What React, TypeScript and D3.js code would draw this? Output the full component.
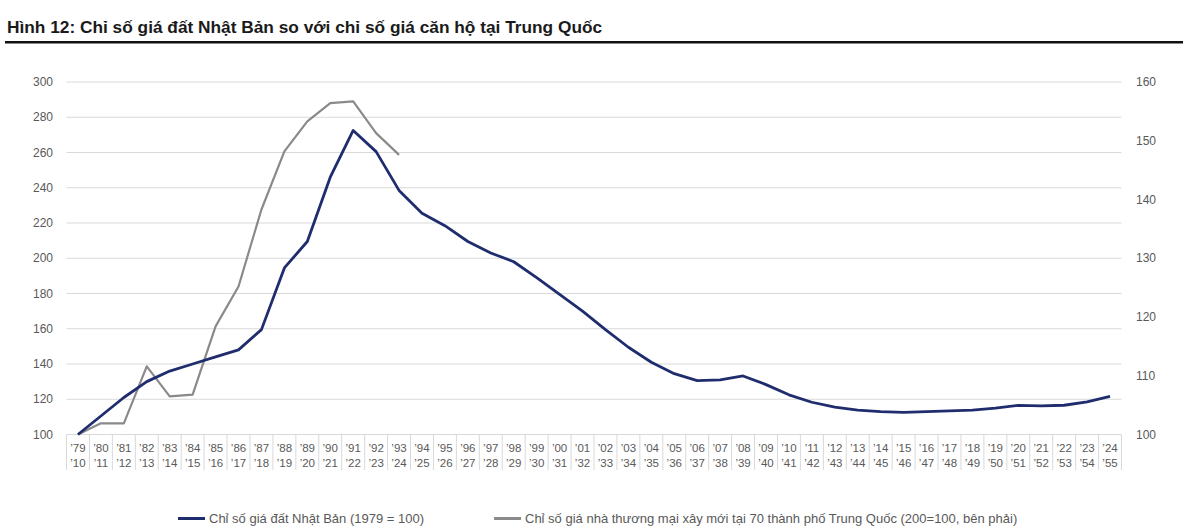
import React, { useEffect, useRef } from 'react';
import * as d3 from 'd3';

// Years on the first label row (Japan) and second row (China, shifted)
const japanYears = [
  '79', '80', '81', '82', '83', '84', '85', '86', '87', '88', '89', '90', '91', '92', '93', '94',
  '95', '96', '97', '98', '99', '00', '01', '02', '03', '04', '05', '06', '07', '08', '09', '10',
  '11', '12', '13', '14', '15', '16', '17', '18', '19', '20', '21', '22', '23', '24'
];
const chinaYears = [
  '10', '11', '12', '13', '14', '15', '16', '17', '18', '19', '20', '21', '22', '23', '24', '25',
  '26', '27', '28', '29', '30', '31', '32', '33', '34', '35', '36', '37', '38', '39', '40', '41',
  '42', '43', '44', '45', '46', '47', '48', '49', '50', '51', '52', '53', '54', '55'
];

// Japan land price index (1979 = 100), left axis
const japanValues = [
  100, 110.5, 121, 130, 136, 140, 144, 148, 159.5, 194.5, 209.5, 246, 272.5, 260.5, 238.5, 225.5,
  218.5, 209.5, 203, 198, 189, 179.5, 170, 159.5, 149.5, 141, 134.5, 130.6, 131, 133.2, 128.3, 122.5,
  118.3, 115.5, 113.8, 113, 112.6, 113, 113.4, 113.8, 115, 116.5, 116.2, 116.6, 118.5, 121.6
];

// China new home price index, 70 cities (right axis); only first 15 points
const chinaValues = [
  100, 101.9, 101.9, 111.6, 106.5, 106.8, 118.4, 125.2, 138.3, 148.2, 153.3, 156.4, 156.7, 151.3, 147.6
];

const leftTicks = [100, 120, 140, 160, 180, 200, 220, 240, 260, 280, 300];
const rightTicks = [100, 110, 120, 130, 140, 150, 160];

const titleText = 'Hình 12: Chỉ số giá đất Nhật Bản so với chỉ số giá căn hộ tại Trung Quốc';
const legendJapan = 'Chỉ số giá đất Nhật Bản (1979 = 100)';
const legendChina = 'Chỉ số giá nhà thương mại xây mới tại 70 thành phố Trung Quốc (200=100, bên phải)';

const App: React.FC = () => {
  const ref = useRef<SVGSVGElement>(null);

  useEffect(() => {
    if (!ref.current) return;
    const svg = d3.select(ref.current);
    svg.selectAll('*').remove();

    const font = '"Liberation Sans", Arial, sans-serif';
    const labelColor = '#595959';
    const gridColor = '#d9d9d9';
    const blue = '#1f2d6e';
    const gray = '#8a8a8a';

    const left = 66.5;
    const right = 1121.5;
    const top = 82;
    const bottom = 434.5;

    // Title
    svg.append('text')
      .attr('x', 7)
      .attr('y', 33)
      .attr('font-family', font)
      .attr('font-size', 17.3)
      .attr('font-weight', 'bold')
      .attr('fill', '#1a1a1a')
      .text(titleText);

    svg.append('rect')
      .attr('x', 5)
      .attr('y', 41)
      .attr('width', 1178)
      .attr('height', 2.5)
      .attr('fill', '#111');

    const x = d3.scaleBand<string>()
      .domain(japanYears)
      .range([left, right]);
    const xc = (i: number) => (x(japanYears[i]) as number) + x.bandwidth() / 2;

    const yLeft = d3.scaleLinear().domain([100, 300]).range([bottom, top]);
    const yRight = d3.scaleLinear().domain([100, 160]).range([bottom, top]);

    // Gridlines
    svg.append('g')
      .selectAll('line')
      .data(leftTicks)
      .enter()
      .append('line')
      .attr('x1', left)
      .attr('x2', right)
      .attr('y1', d => yLeft(d))
      .attr('y2', d => yLeft(d))
      .attr('stroke', gridColor)
      .attr('stroke-width', 1);

    // Left axis labels
    svg.append('g')
      .selectAll('text')
      .data(leftTicks)
      .enter()
      .append('text')
      .attr('x', 53)
      .attr('y', d => yLeft(d) + 4)
      .attr('text-anchor', 'end')
      .attr('font-family', font)
      .attr('font-size', 12)
      .attr('fill', labelColor)
      .text(d => d);

    // Right axis labels
    svg.append('g')
      .selectAll('text')
      .data(rightTicks)
      .enter()
      .append('text')
      .attr('x', 1136)
      .attr('y', d => yRight(d) + 4)
      .attr('text-anchor', 'start')
      .attr('font-family', font)
      .attr('font-size', 12)
      .attr('fill', labelColor)
      .text(d => d);

    // Category table boxes
    const boundaries = japanYears.map(d => x(d) as number).concat([right]);
    svg.append('g')
      .selectAll('line')
      .data(boundaries)
      .enter()
      .append('line')
      .attr('x1', d => d)
      .attr('x2', d => d)
      .attr('y1', bottom)
      .attr('y2', 470)
      .attr('stroke', gridColor)
      .attr('stroke-width', 1);

    // Category labels, two rows
    const rows: [string[], number][] = [[japanYears, 451.5], [chinaYears, 466.5]];
    rows.forEach(([labels, yPos]) => {
      svg.append('g')
        .selectAll('text')
        .data(labels)
        .enter()
        .append('text')
        .attr('x', (_, i) => xc(i))
        .attr('y', yPos)
        .attr('text-anchor', 'middle')
        .attr('font-family', font)
        .attr('font-size', 11.5)
        .attr('fill', labelColor)
        .text(d => '\u2019' + d);
    });

    // Lines
    const japanLine = d3.line<number>()
      .x((_, i) => xc(i))
      .y(d => yLeft(d));
    const chinaLine = d3.line<number>()
      .x((_, i) => xc(i))
      .y(d => yRight(d));

    svg.append('path')
      .datum(chinaValues)
      .attr('d', chinaLine)
      .attr('fill', 'none')
      .attr('stroke', gray)
      .attr('stroke-width', 2.2)
      .attr('stroke-linejoin', 'round');

    svg.append('path')
      .datum(japanValues)
      .attr('d', japanLine)
      .attr('fill', 'none')
      .attr('stroke', blue)
      .attr('stroke-width', 2.8)
      .attr('stroke-linejoin', 'round');

    // Legend
    const legend = [
      { label: legendJapan, color: blue, x: 178 },
      { label: legendChina, color: gray, x: 494 }
    ];
    const lg = svg.append('g');
    legend.forEach(item => {
      lg.append('line')
        .attr('x1', item.x)
        .attr('x2', item.x + 27)
        .attr('y1', 518.5)
        .attr('y2', 518.5)
        .attr('stroke', item.color)
        .attr('stroke-width', 3);
      lg.append('text')
        .attr('x', item.x + 31)
        .attr('y', 523)
        .attr('font-family', font)
        .attr('font-size', 13)
        .attr('fill', labelColor)
        .text(item.label);
    });
  }, []);

  return (
    <div style={{ position: 'absolute', left: 0, top: 0, width: 1200, height: 531 }}>
      <svg ref={ref} width={1200} height={531} style={{ display: 'block' }} />
    </div>
  );
};

export default App;
